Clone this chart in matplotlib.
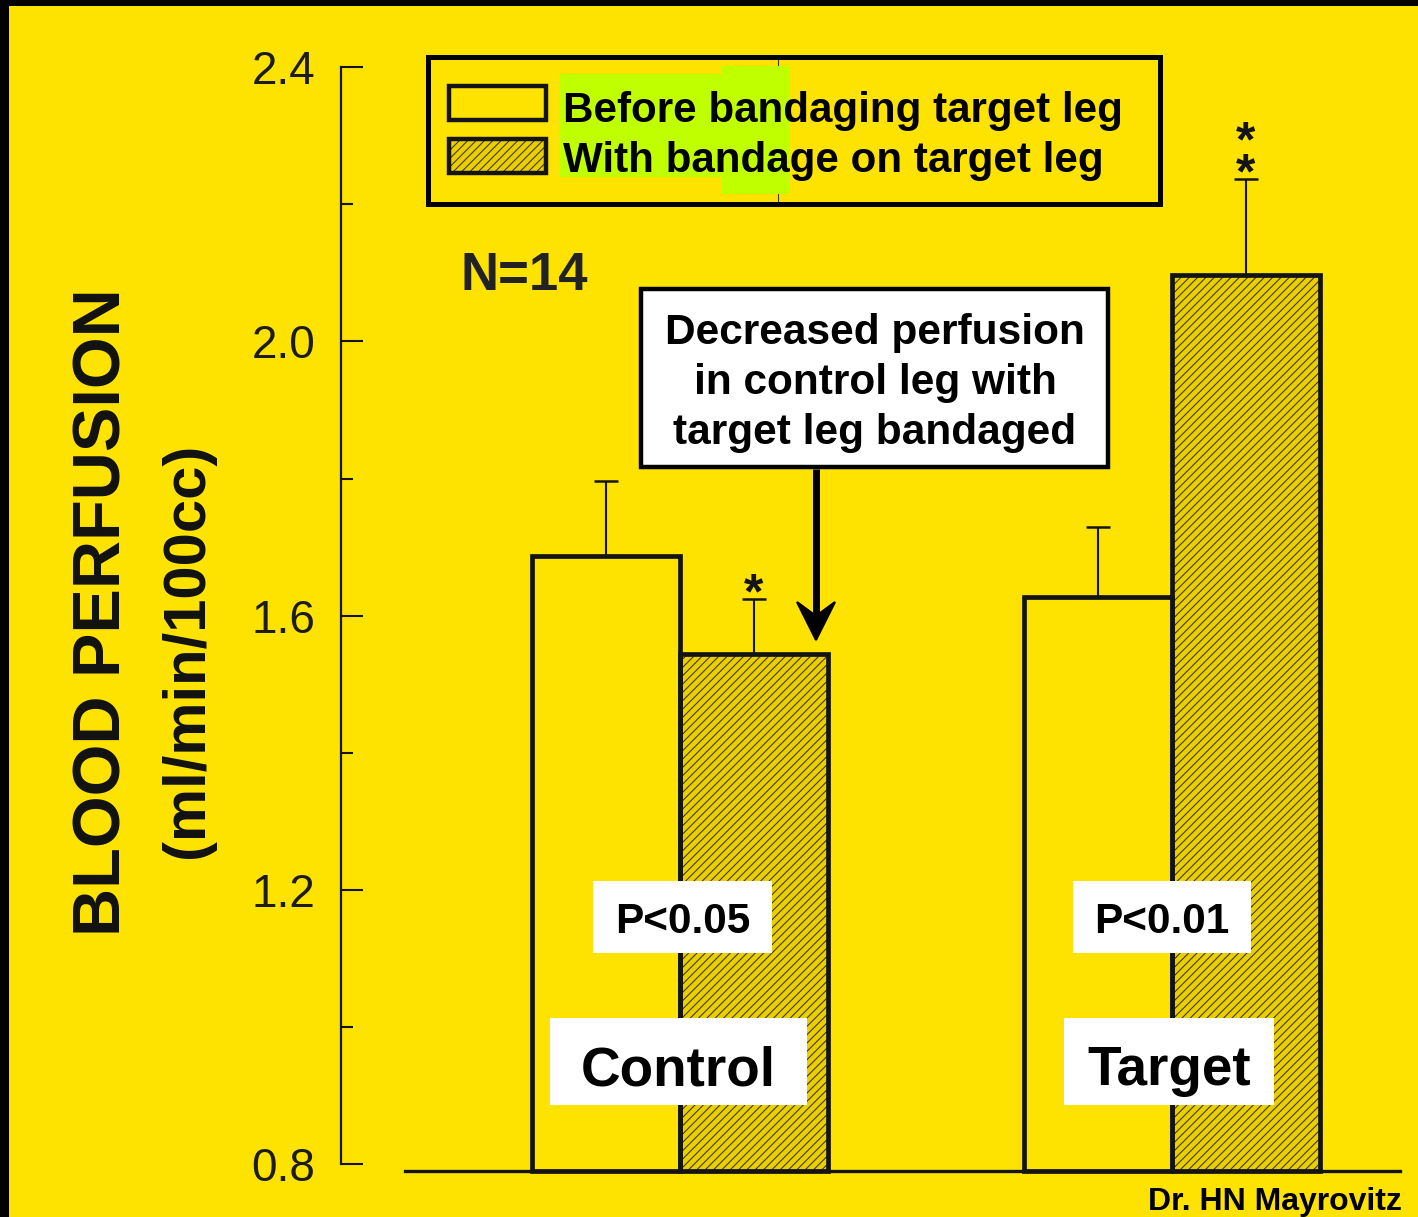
import matplotlib
matplotlib.use("Agg")
import matplotlib.pyplot as plt
import matplotlib.transforms as mtransforms
from matplotlib.patches import Rectangle, Polygon
from matplotlib.lines import Line2D
from matplotlib import font_manager
import numpy as np

# ---------------- data ----------------
groups = ["Control", "Target"]
series = ["Before bandaging target leg", "With bandage on target leg"]
before_vals = [1.687, 1.627]
with_vals = [1.544, 2.097]
before_err = [0.110, 0.102]
with_err = [0.080, 0.140]
sig_counts = [1, 2]          # asterisks above the "with bandage" bars
p_labels = ["P<0.05", "P<0.01"]
yticks_major = [0.8, 1.2, 1.6, 2.0, 2.4]
yticks_minor = [1.0, 1.4, 1.8, 2.2]
ytick_labels = ["0.8", "1.2", "1.6", "2.0", "2.4"]
ylabel_main = "BLOOD PERFUSION"
ylabel_unit = "(ml/min/100cc)"
n_label = "N=14"
callout_lines = ["Decreased perfusion", "in control leg with", "target leg bandaged"]
credit = "Dr. HN Mayrovitz"

# ---------------- style ----------------
YELLOW = "#FFE300"
HATCH_BG = "#E9CF00"
HATCH_COL = "#3d3200"
INK = "#141414"
GREEN = "#BFFF00"
FONT = "Liberation Sans"
names = {f.name for f in font_manager.fontManager.ttflist}
NARROW = "Liberation Sans Narrow" if "Liberation Sans Narrow" in names else FONT
plt.rcParams["font.family"] = [FONT, "DejaVu Sans"]
plt.rcParams["hatch.linewidth"] = 0.75

W, H = 1418, 1217
fig = plt.figure(figsize=(W / 100, H / 100), dpi=100, facecolor=YELLOW)
PX = mtransforms.Affine2D().scale(1 / W, -1 / H).translate(0, 1) + fig.transFigure

# axes placement (pixel geometry of the reference)
SPINE_X, BASE_Y, TOP_Y = 341, 1171, 40
Y08, Y24 = 1164.0, 67.3
PPU = (Y08 - Y24) / 1.6
XC0, XC1 = 680, 1172
XPU = XC1 - XC0

ax = fig.add_axes([SPINE_X / W, (H - BASE_Y) / H, (W - SPINE_X) / W, (BASE_Y - TOP_Y) / H])
ax.patch.set_visible(False)
ylo = 0.8 - (BASE_Y - Y08) / PPU
yhi = 2.4 + (Y24 - TOP_Y) / PPU
ax.set_ylim(ylo, yhi)
ax.set_xlim(-(XC0 - SPINE_X) / XPU, 1 + (W - XC1) / XPU)

x = np.arange(len(groups))
w = 0.301
bv = np.array(before_vals)
wv = np.array(with_vals)

# before bars (open)
ax.bar(x - w / 2, bv - ylo, bottom=ylo, width=w, facecolor="none",
       edgecolor=INK, linewidth=3.4, zorder=3, clip_on=False)
# with bars (hatched)
ax.bar(x + w / 2, wv - ylo, bottom=ylo, width=w, facecolor=HATCH_BG,
       edgecolor=HATCH_COL, linewidth=0, hatch="////", zorder=2)
ax.bar(x + w / 2, wv - ylo, bottom=ylo, width=w, facecolor="none",
       edgecolor=INK, linewidth=3.4, zorder=3, clip_on=False)

# error bars (upper only)
ax.errorbar(x - w / 2, bv, yerr=[np.zeros(len(bv)), before_err], fmt="none",
            ecolor=INK, elinewidth=1.5, capsize=8.6, capthick=1.8, zorder=4)
ax.errorbar(x + w / 2, wv, yerr=[np.zeros(len(wv)), with_err], fmt="none",
            ecolor=INK, elinewidth=1.5, capsize=8.6, capthick=1.8, zorder=4)

# significance asterisks (stacked in one text; baseline = last line)
for xi, top, n in zip(x + w / 2, wv + np.array(with_err), sig_counts):
    ax.annotate("\n".join(["*"] * n), xy=(xi, top), xytext=(0, 15 - 24),
                textcoords="offset pixels", ha="center", va="baseline", multialignment="center",
                linespacing=0.615, fontsize=36, fontweight="bold", color=INK, zorder=5)

# axis styling
for s in ["top", "right", "bottom"]:
    ax.spines[s].set_visible(False)
ax.spines["left"].set_bounds(0.8, 2.4)
ax.spines["left"].set_linewidth(1.6)
ax.spines["left"].set_color(INK)
ax.set_yticks(yticks_major)
ax.set_yticklabels(ytick_labels)
ax.set_yticks(yticks_minor, minor=True)
ax.tick_params(axis="y", which="major", direction="in", length=16, width=1.5,
               pad=18.5, labelsize=33, labelcolor="#1c1c1c", color=INK)
ax.tick_params(axis="y", which="minor", direction="in", length=8.5, width=1.5, color=INK)
ax.set_xticks([])
ax.axhline(ylo, xmin=(405 - SPINE_X) / (W - SPINE_X), xmax=(1400 - SPINE_X) / (W - SPINE_X),
           color=INK, lw=2.4, clip_on=False, zorder=3)

# y-axis titles
fig.text(104 / W, 1 - 612 / H, ylabel_main, rotation=90, ha="center", va="center",
         fontsize=48, fontweight="bold", color="#111111")
fig.text(188 / W, 1 - 650 / H, ylabel_unit, rotation=90, ha="center", va="center",
         fontsize=43, fontweight="bold", color="#111111")

# black border (top and left)
fig.patches.append(Rectangle((0, 0), W, 6, transform=PX, facecolor="black", edgecolor="none"))
fig.patches.append(Rectangle((0, 0), 9, H, transform=PX, facecolor="black", edgecolor="none"))

# legend (drawn by hand to match the boxed layout)
fig.patches.append(Rectangle((559, 74), 163, 103, transform=PX, facecolor=GREEN, edgecolor="none", zorder=1))
fig.patches.append(Rectangle((722, 66), 68, 128, transform=PX, facecolor=GREEN, edgecolor="none", zorder=1))
fig.lines.append(Line2D([778, 778], [57, 204], transform=PX, color="#3a3a3a", lw=0.8, zorder=1))
fig.patches.append(Rectangle((428, 57), 732, 147, transform=PX, facecolor="none", edgecolor="black", lw=3.6, zorder=2))
fig.patches.append(Rectangle((449, 86), 97, 34, transform=PX, facecolor="none", edgecolor=INK, lw=3.2, zorder=2))
fig.patches.append(Rectangle((449, 139), 97, 34, transform=PX, facecolor=HATCH_BG, edgecolor=HATCH_COL,
                             lw=0, hatch="////", zorder=2))
fig.patches.append(Rectangle((449, 139), 97, 34, transform=PX, facecolor="none", edgecolor=INK, lw=3.2, zorder=2))
for lab, yb in zip(series, [122, 172]):
    fig.text(563 / W, 1 - yb / H, lab, ha="left", va="baseline", fontsize=30.3,
             fontweight="bold", color="black", zorder=3)

# N label
fig.text(460 / W, 1 - 290 / H, n_label, ha="left", va="baseline", fontsize=38,
         fontweight="bold", color="#222222")

# callout box + arrow
fig.patches.append(Rectangle((641, 289), 467, 178, transform=PX, facecolor="white", edgecolor="black", lw=3.2, zorder=5))
for line, yb in zip(callout_lines, [344, 394, 444]):
    fig.text(875 / W, 1 - yb / H, line, ha="center", va="baseline", fontsize=30.5,
             fontweight="bold", color="black", zorder=6)
fig.lines.append(Line2D([816, 816], [469, 618], transform=PX, color="black", lw=5, zorder=6,
                        solid_capstyle="butt"))
fig.patches.append(Polygon([(797, 602), (816, 640), (835, 602), (816, 616)], closed=True,
                           transform=PX, facecolor="black", edgecolor="black", lw=1.5, zorder=6))

# p-value boxes and group labels
p_boxes = [(593, 881, 179, 72), (1073, 881, 178, 72)]
g_boxes = [(550, 1018, 257, 87), (1064, 1018, 210, 87)]
for lab, (bx, by, bw, bh) in zip(p_labels, p_boxes):
    fig.patches.append(Rectangle((bx, by), bw, bh, transform=PX, facecolor="white", edgecolor="none", zorder=5))
    fig.text((bx + bw / 2) / W, 1 - 933 / H, lab, ha="center", va="baseline", fontsize=30.5,
             fontweight="bold", color="black", zorder=6)
for lab, (bx, by, bw, bh) in zip(groups, g_boxes):
    fig.patches.append(Rectangle((bx, by), bw, bh, transform=PX, facecolor="white", edgecolor="none", zorder=5))
    fig.text((bx + bw / 2) / W, 1 - 1085 / H, lab, ha="center", va="baseline", fontsize=39.5,
             fontweight="bold", color="black", zorder=6)

# credit
fig.text(1402 / W, 1 - 1210 / H, credit, ha="right", va="baseline", fontsize=23,
         fontweight="bold", color="black", family=[NARROW, "DejaVu Sans"])

fig.savefig("out.png", dpi=100, facecolor=YELLOW)
